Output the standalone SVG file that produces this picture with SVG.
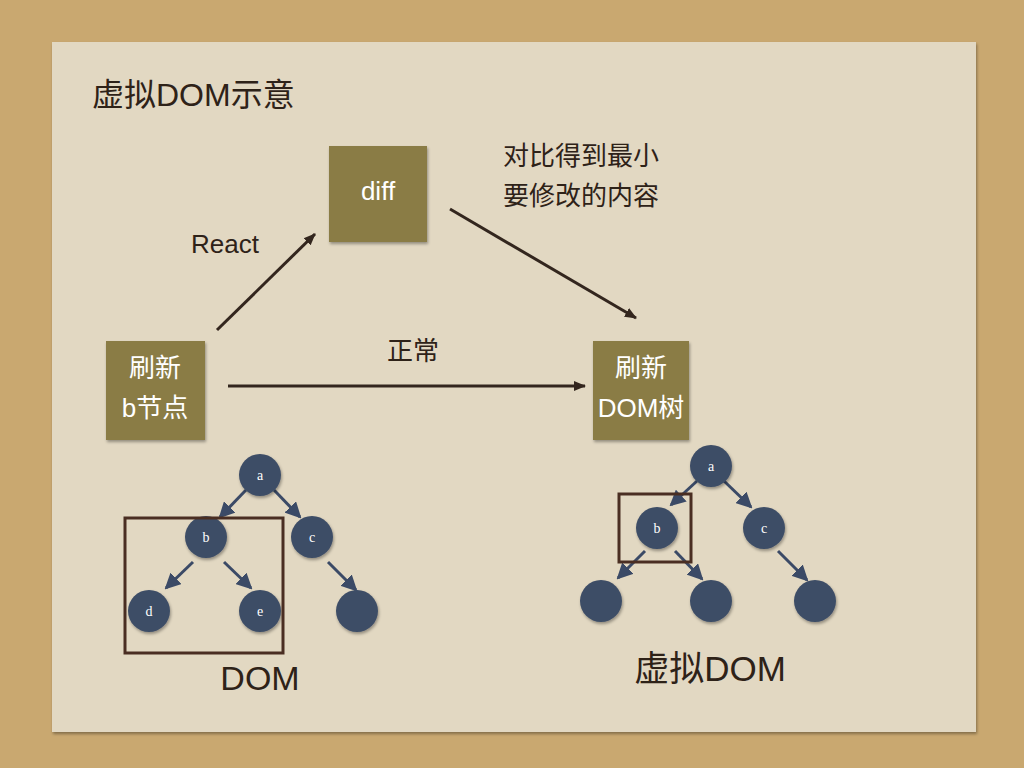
<svg xmlns="http://www.w3.org/2000/svg" width="1024" height="768" viewBox="0 0 1024 768">
<defs>
<marker id="ah" markerWidth="12" markerHeight="12" refX="11" refY="6" orient="auto" markerUnits="userSpaceOnUse" viewBox="0 0 12 12"><path d="M0,1 L12,6 L0,11 Z" fill="#33261e"/></marker>
<marker id="bh" markerWidth="16" markerHeight="16" refX="14" refY="8" orient="auto" markerUnits="userSpaceOnUse" viewBox="0 0 16 16"><path d="M0,0 L16,8 L0,16 Z" fill="#3b4a66"/></marker>
<filter id="sh" x="-20%" y="-20%" width="140%" height="140%"><feDropShadow dx="1" dy="2" stdDeviation="1.5" flood-opacity="0.35"/></filter>
</defs>
<style>
.box{fill:#8a7c45;filter:url(#sh)}
.bt{fill:#fff;font-family:"Liberation Sans","Noto Sans CJK SC",sans-serif;font-size:26px;text-anchor:middle}
.lbl{fill:#2e2218;font-family:"Liberation Sans","Noto Sans CJK SC",sans-serif;font-size:26px}
.c{fill:#3e4d66;filter:url(#sh)}
.ct{fill:#fff;font-family:"Liberation Serif",serif;font-size:14px;text-anchor:middle}
.e{stroke:#33261e;stroke-width:3;fill:none;marker-end:url(#ah)}
.t{stroke:#3b4a66;stroke-width:3;fill:none;marker-end:url(#bh)}
.sel{fill:none;stroke:#4a2e22;stroke-width:3}
</style>
<rect width="1024" height="768" fill="#c9a870"/>
<rect x="52" y="42" width="924" height="690" fill="#e2d8c2" filter="url(#sh)"/>
<text class="lbl" x="92" y="106" style="font-size:32px">虚拟DOM示意</text>
<g id="diff"><rect class="box" x="329" y="146" width="98" height="96"/><text class="bt" x="378" y="200">diff</text></g>
<g id="refreshB"><rect class="box" x="106" y="341" width="99" height="99"/><text class="bt" x="155" y="377">刷新</text><text class="bt" x="155" y="417">b节点</text></g>
<g id="refreshDom"><rect class="box" x="593" y="341" width="96" height="99"/><text class="bt" x="641" y="377">刷新</text><text class="bt" x="641" y="417">DOM树</text></g>
<text class="lbl" x="191" y="253">React</text>
<text class="lbl" x="503" y="165">对比得到最小</text>
<text class="lbl" x="503" y="205">要修改的内容</text>
<text class="lbl" x="387" y="360">正常</text>
<g id="connectors">
<line class="e" x1="217" y1="330" x2="315" y2="234"/>
<line class="e" x1="450" y1="209" x2="636" y2="318"/>
<line class="e" x1="228" y1="386" x2="585" y2="386"/>
<line class="t" x1="246" y1="490" x2="220" y2="517"/>
<line class="t" x1="274" y1="490" x2="300" y2="517"/>
<line class="t" x1="193" y1="562" x2="166" y2="588"/>
<line class="t" x1="224" y1="562" x2="251" y2="588"/>
<line class="t" x1="328" y1="562" x2="356" y2="590"/>
<line class="t" x1="697" y1="481" x2="671" y2="505"/>
<line class="t" x1="724" y1="481" x2="751" y2="507"/>
<line class="t" x1="645" y1="551" x2="618" y2="578"/>
<line class="t" x1="675" y1="551" x2="702" y2="579"/>
<line class="t" x1="778" y1="551" x2="807" y2="580"/>
</g>
<g id="domTree">
<circle class="c" cx="260" cy="475" r="21"/><text class="ct" x="260" y="480">a</text>
<circle class="c" cx="206" cy="537" r="21"/><text class="ct" x="206" y="542">b</text>
<circle class="c" cx="312" cy="537" r="21"/><text class="ct" x="312" y="542">c</text>
<circle class="c" cx="149" cy="611" r="21"/><text class="ct" x="149" y="616">d</text>
<circle class="c" cx="260" cy="611" r="21"/><text class="ct" x="260" y="616">e</text>
<circle class="c" cx="357" cy="611" r="21"/>
<rect class="sel" x="125" y="518" width="158" height="135"/>
<text class="lbl" x="260" y="690" style="font-size:34px;text-anchor:middle">DOM</text>
</g>
<g id="vdomTree">
<circle class="c" cx="711" cy="466" r="21"/><text class="ct" x="711" y="471">a</text>
<circle class="c" cx="657" cy="528" r="21"/><text class="ct" x="657" y="533">b</text>
<circle class="c" cx="764" cy="528" r="21"/><text class="ct" x="764" y="533">c</text>
<circle class="c" cx="601" cy="601" r="21"/>
<circle class="c" cx="711" cy="601" r="21"/>
<circle class="c" cx="815" cy="601" r="21"/>
<rect class="sel" x="619" y="494" width="72" height="68"/>
<text class="lbl" x="710" y="681" style="font-size:35px;text-anchor:middle">虚拟DOM</text>
</g>
</svg>
